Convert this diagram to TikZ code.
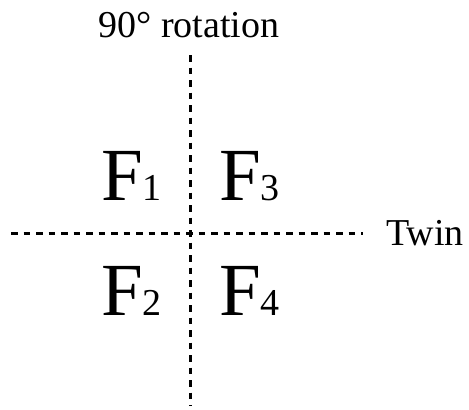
\documentclass[tikz,border=0pt]{standalone}
\usepackage{fontspec}
\setmainfont{Liberation Serif}
\begin{document}
\begin{tikzpicture}[x=1pt,y=-1pt,
  axis/.style={line width=3pt,dash pattern=on 6.5pt off 6pt},
  big/.style={inner sep=0pt,anchor=base west,font=\fontsize{75}{75}\selectfont},
  lbl/.style={inner sep=0pt,font=\fontsize{38}{38}\selectfont}]
\useasboundingbox (0,0) rectangle (469,410);
\newcommand{\sbs}[1]{{\fontsize{38}{38}\selectfont #1}}
\coordinate (vtop) at (190,55);
\coordinate (vbot) at (190,406);
\coordinate (hleft) at (11,233);
\coordinate (hright) at (363,233);
\draw[axis] (vtop) -- (vbot);
\draw[axis] (hleft) -- (hright);
\node[lbl,anchor=base] (rot) at (189,37) {90° rotation};
\node[lbl,anchor=base west] (twin) at (386,245) {Twin};
\node[big] (f1) at (101,200) {F\sbs{1}};
\node[big] (f3) at (219,200) {F\sbs{3}};
\node[big] (f2) at (101,315) {F\sbs{2}};
\node[big] (f4) at (219,315) {F\sbs{4}};
\end{tikzpicture}
\end{document}
